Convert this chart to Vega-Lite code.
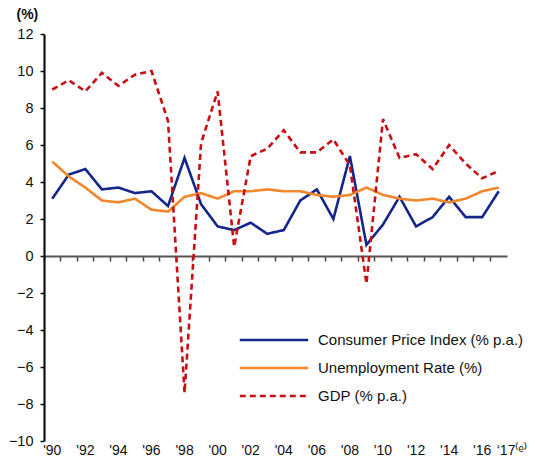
{
  "$schema": "https://vega.github.io/schema/vega-lite/v6.json",
  "width": 463,
  "height": 407,
  "autosize": "none",
  "padding": {"left": 44, "top": 34, "right": 28, "bottom": 19},
  "background": "white",
  "config": {
    "view": {"stroke": null},
    "font": "Liberation Sans"
  },
  "data": {
    "values": [
      {"year": "1990", "series": "Consumer Price Index (% p.a.)", "value": 3.1},
      {"year": "1991", "series": "Consumer Price Index (% p.a.)", "value": 4.4},
      {"year": "1992", "series": "Consumer Price Index (% p.a.)", "value": 4.7},
      {"year": "1993", "series": "Consumer Price Index (% p.a.)", "value": 3.6},
      {"year": "1994", "series": "Consumer Price Index (% p.a.)", "value": 3.7},
      {"year": "1995", "series": "Consumer Price Index (% p.a.)", "value": 3.4},
      {"year": "1996", "series": "Consumer Price Index (% p.a.)", "value": 3.5},
      {"year": "1997", "series": "Consumer Price Index (% p.a.)", "value": 2.7},
      {"year": "1998", "series": "Consumer Price Index (% p.a.)", "value": 5.3},
      {"year": "1999", "series": "Consumer Price Index (% p.a.)", "value": 2.8},
      {"year": "2000", "series": "Consumer Price Index (% p.a.)", "value": 1.6},
      {"year": "2001", "series": "Consumer Price Index (% p.a.)", "value": 1.4},
      {"year": "2002", "series": "Consumer Price Index (% p.a.)", "value": 1.8},
      {"year": "2003", "series": "Consumer Price Index (% p.a.)", "value": 1.2},
      {"year": "2004", "series": "Consumer Price Index (% p.a.)", "value": 1.4},
      {"year": "2005", "series": "Consumer Price Index (% p.a.)", "value": 3.0},
      {"year": "2006", "series": "Consumer Price Index (% p.a.)", "value": 3.6},
      {"year": "2007", "series": "Consumer Price Index (% p.a.)", "value": 2.0},
      {"year": "2008", "series": "Consumer Price Index (% p.a.)", "value": 5.4},
      {"year": "2009", "series": "Consumer Price Index (% p.a.)", "value": 0.6},
      {"year": "2010", "series": "Consumer Price Index (% p.a.)", "value": 1.7},
      {"year": "2011", "series": "Consumer Price Index (% p.a.)", "value": 3.2},
      {"year": "2012", "series": "Consumer Price Index (% p.a.)", "value": 1.6},
      {"year": "2013", "series": "Consumer Price Index (% p.a.)", "value": 2.1},
      {"year": "2014", "series": "Consumer Price Index (% p.a.)", "value": 3.2},
      {"year": "2015", "series": "Consumer Price Index (% p.a.)", "value": 2.1},
      {"year": "2016", "series": "Consumer Price Index (% p.a.)", "value": 2.1},
      {"year": "2017", "series": "Consumer Price Index (% p.a.)", "value": 3.5},
      {"year": "1990", "series": "Unemployment Rate (%)", "value": 5.1},
      {"year": "1991", "series": "Unemployment Rate (%)", "value": 4.3},
      {"year": "1992", "series": "Unemployment Rate (%)", "value": 3.7},
      {"year": "1993", "series": "Unemployment Rate (%)", "value": 3.0},
      {"year": "1994", "series": "Unemployment Rate (%)", "value": 2.9},
      {"year": "1995", "series": "Unemployment Rate (%)", "value": 3.1},
      {"year": "1996", "series": "Unemployment Rate (%)", "value": 2.5},
      {"year": "1997", "series": "Unemployment Rate (%)", "value": 2.4},
      {"year": "1998", "series": "Unemployment Rate (%)", "value": 3.2},
      {"year": "1999", "series": "Unemployment Rate (%)", "value": 3.4},
      {"year": "2000", "series": "Unemployment Rate (%)", "value": 3.1},
      {"year": "2001", "series": "Unemployment Rate (%)", "value": 3.5},
      {"year": "2002", "series": "Unemployment Rate (%)", "value": 3.5},
      {"year": "2003", "series": "Unemployment Rate (%)", "value": 3.6},
      {"year": "2004", "series": "Unemployment Rate (%)", "value": 3.5},
      {"year": "2005", "series": "Unemployment Rate (%)", "value": 3.5},
      {"year": "2006", "series": "Unemployment Rate (%)", "value": 3.3},
      {"year": "2007", "series": "Unemployment Rate (%)", "value": 3.2},
      {"year": "2008", "series": "Unemployment Rate (%)", "value": 3.3},
      {"year": "2009", "series": "Unemployment Rate (%)", "value": 3.7},
      {"year": "2010", "series": "Unemployment Rate (%)", "value": 3.3},
      {"year": "2011", "series": "Unemployment Rate (%)", "value": 3.1},
      {"year": "2012", "series": "Unemployment Rate (%)", "value": 3.0},
      {"year": "2013", "series": "Unemployment Rate (%)", "value": 3.1},
      {"year": "2014", "series": "Unemployment Rate (%)", "value": 2.9},
      {"year": "2015", "series": "Unemployment Rate (%)", "value": 3.1},
      {"year": "2016", "series": "Unemployment Rate (%)", "value": 3.5},
      {"year": "2017", "series": "Unemployment Rate (%)", "value": 3.7},
      {"year": "1990", "series": "GDP (% p.a.)", "value": 9.0},
      {"year": "1991", "series": "GDP (% p.a.)", "value": 9.5},
      {"year": "1992", "series": "GDP (% p.a.)", "value": 8.9},
      {"year": "1993", "series": "GDP (% p.a.)", "value": 9.9},
      {"year": "1994", "series": "GDP (% p.a.)", "value": 9.2},
      {"year": "1995", "series": "GDP (% p.a.)", "value": 9.8},
      {"year": "1996", "series": "GDP (% p.a.)", "value": 10.0},
      {"year": "1997", "series": "GDP (% p.a.)", "value": 7.3},
      {"year": "1998", "series": "GDP (% p.a.)", "value": -7.4},
      {"year": "1999", "series": "GDP (% p.a.)", "value": 6.1},
      {"year": "2000", "series": "GDP (% p.a.)", "value": 8.9},
      {"year": "2001", "series": "GDP (% p.a.)", "value": 0.5},
      {"year": "2002", "series": "GDP (% p.a.)", "value": 5.4},
      {"year": "2003", "series": "GDP (% p.a.)", "value": 5.8},
      {"year": "2004", "series": "GDP (% p.a.)", "value": 6.8},
      {"year": "2005", "series": "GDP (% p.a.)", "value": 5.6},
      {"year": "2006", "series": "GDP (% p.a.)", "value": 5.6},
      {"year": "2007", "series": "GDP (% p.a.)", "value": 6.3},
      {"year": "2008", "series": "GDP (% p.a.)", "value": 4.9},
      {"year": "2009", "series": "GDP (% p.a.)", "value": -1.5},
      {"year": "2010", "series": "GDP (% p.a.)", "value": 7.4},
      {"year": "2011", "series": "GDP (% p.a.)", "value": 5.3},
      {"year": "2012", "series": "GDP (% p.a.)", "value": 5.5},
      {"year": "2013", "series": "GDP (% p.a.)", "value": 4.7},
      {"year": "2014", "series": "GDP (% p.a.)", "value": 6.0},
      {"year": "2015", "series": "GDP (% p.a.)", "value": 5.0},
      {"year": "2016", "series": "GDP (% p.a.)", "value": 4.2},
      {"year": "2017", "series": "GDP (% p.a.)", "value": 4.6}
    ]
  },
  "mark": {"type": "line", "strokeWidth": 2.6},
  "encoding": {
    "x": {
      "field": "year",
      "type": "ordinal",
      "scale": {"type": "band", "paddingInner": 0, "paddingOuter": 0},
      "axis": {
        "title": null,
        "orient": "bottom",
        "offset": -185,
        "bandPosition": 0,
        "labelPadding": 182,
        "labelAngle": 0,
        "labelOverlap": false,
        "labelFontSize": 14,
        "labelColor": "#111111",
        "labelAlign": {"condition": {"test": "datum.value == '2017'", "value": "left"}, "value": "center"},
        "labelOffset": {"condition": {"test": "datum.value == '2017'", "value": -2}, "value": 0},
        "labelExpr": "datum.value == '2017' ? '\u201817\u207d\u1d49\u207e' : (toNumber(datum.value) % 2 == 0 ? \"'\" + substring(datum.value, 2, 4) : '')",
        "tickSize": 5,
        "tickColor": "#444444",
        "tickWidth": 1.5,
        "domainColor": "#555555",
        "domainWidth": 2.2,
        "grid": false
      }
    },
    "y": {
      "field": "value",
      "type": "quantitative",
      "scale": {"domain": [-10, 12], "nice": false, "zero": false},
      "axis": {
        "title": "(%)",
        "titleAngle": 0,
        "titleFontWeight": "bold",
        "titleFontSize": 14,
        "titleAlign": "left",
        "titleBaseline": "middle",
        "titleX": -28,
        "titleY": -20,
        "titleColor": "#111111",
        "values": [-10, -8, -6, -4, -2, 0, 2, 4, 6, 8, 10, 12],
        "labelFontSize": 14.5,
        "labelColor": "#111111",
        "labelPadding": 7,
        "tickSize": 4,
        "tickColor": "#111111",
        "tickWidth": 1.5,
        "domainColor": "#111111",
        "domainWidth": 2.2,
        "grid": false
      }
    },
    "color": {
      "field": "series",
      "type": "nominal",
      "scale": {
        "domain": ["Consumer Price Index (% p.a.)", "Unemployment Rate (%)", "GDP (% p.a.)"],
        "range": ["#15268A", "#F0872A", "#C80F14"]
      },
      "legend": {
        "title": null,
        "orient": "none",
        "legendX": 217,
        "legendY": 293,
        "symbolType": "M-3,0H3",
        "symbolSize": 520,
        "symbolStrokeWidth": 2.6,
        "labelFontSize": 15,
        "labelColor": "#111111",
        "labelOffset": 31,
        "rowPadding": 7,
        "labelLimit": 300
      }
    },
    "strokeDash": {
      "field": "series",
      "type": "nominal",
      "scale": {
        "domain": ["Consumer Price Index (% p.a.)", "Unemployment Rate (%)", "GDP (% p.a.)"],
        "range": [[1, 0], [1, 0], [6, 4]]
      },
      "legend": null
    }
  }
}
